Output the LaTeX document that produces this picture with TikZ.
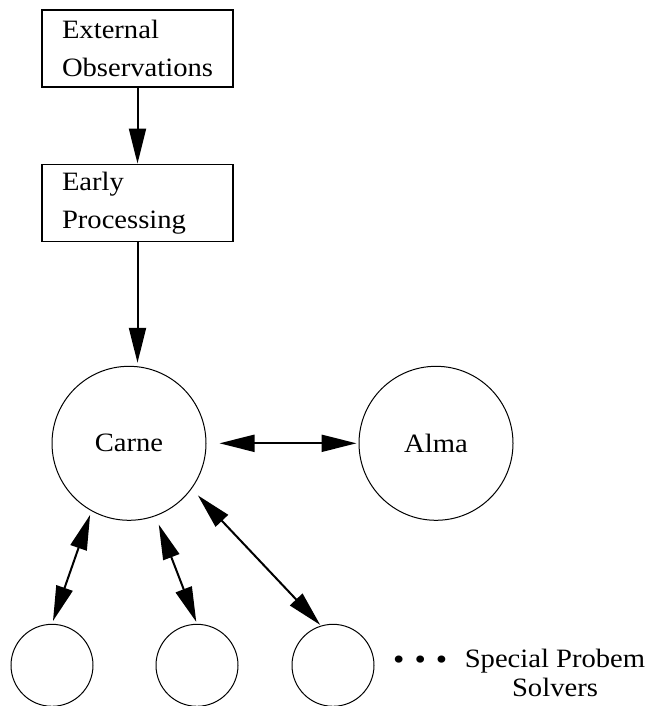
\documentclass[tikz,border=0pt]{standalone}
\usepackage{fontspec}
\setmainfont{Liberation Serif}[FakeStretch=1.08]
\usetikzlibrary{arrows.meta,positioning}
\tikzset{
  >={Triangle[length=35pt,width=17pt]},
  obsbox/.style={draw, line width=1.2pt, rectangle, align=left, text width=151pt, inner xsep=20pt, inner ysep=0pt, minimum height=77pt},
  agent/.style={draw, line width=1pt, circle, minimum size=154pt, inner sep=0pt},
  solver/.style={draw, line width=1pt, circle, minimum size=82pt, inner sep=0pt},
  link/.style={line width=2pt},
}

\begin{document}
\begin{tikzpicture}[x=1pt, y=-1pt, node distance=76pt, font=\fontsize{26.5}{38}\selectfont]
  \useasboundingbox (0,0) rectangle (648,706);
  \node[obsbox] (ext) at (137.5,48.5) {External\\Observations};
  \node[obsbox, below=76pt of ext] (early) {Early\\Processing};
  \node[agent, below=124pt of early, xshift=-8.5pt] (carne) {Carne};
  \node[agent, right=152pt of carne] (alma) {Alma};
  \node[solver, below=103pt of carne, xshift=-77pt] (s1) {};
  \node[solver, right=62pt of s1] (s2) {};
  \node[solver, right=53pt of s2] (s3) {};
  \node[anchor=base west, inner sep=0pt, font=\fontsize{30}{38}\selectfont] (dots) at (393,669) {\textbullet\hspace{10pt}\textbullet\hspace{10pt}\textbullet};
  \node[anchor=north, align=center, inner sep=0pt, font=\fontsize{26.5}{29}\selectfont] (label) at (555,649) {Special Probem\\Solvers};

  \draw[link, ->] (ext) -- (early);
  \draw[link, ->, shorten >=3pt] (early.south) -- (early.south |- carne.north);
  \draw[link, <->, shorten <=13pt, shorten >=2pt] (carne.east) -- (alma.west);
  \draw[link, <->, shorten <=4pt, shorten >=3pt] (carne.-119) -- (s1.north);
  \draw[link, <->, shorten <=9pt, shorten >=2pt] (carne.-70) -- (s2.north);
  \draw[link, <->, shorten <=9pt, shorten >=1pt] (carne.-36) -- (s3.107);
\end{tikzpicture}
\end{document}
